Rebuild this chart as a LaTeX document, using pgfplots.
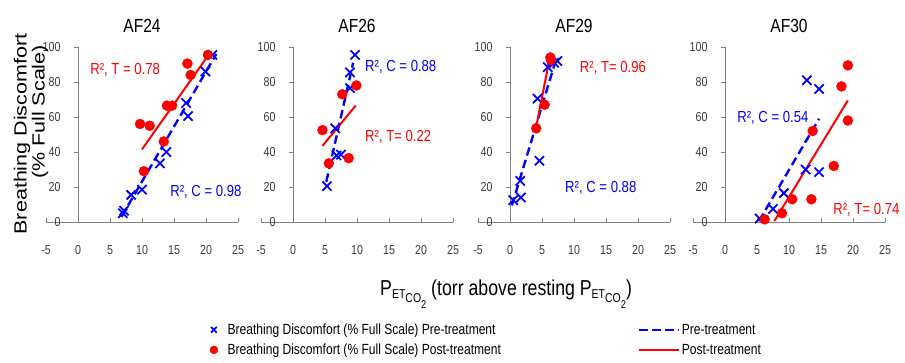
\documentclass[border=0pt]{standalone}
\usepackage{fontspec}
\setmainfont[FakeStretch=0.82]{Liberation Sans}
\newfontfamily\plainfont{Liberation Sans}
\usepackage{graphicx}
\usepackage{pgfplots}
\pgfplotsset{compat=1.18}

\definecolor{pblue}{RGB}{0,0,255}
\definecolor{pred}{RGB}{255,0,0}
\definecolor{axgray}{RGB}{128,128,128}
\definecolor{tickgray}{RGB}{60,60,60}

\newcommand\fs[1]{\fontsize{#1}{#1}\selectfont}
\newcommand\PET{P\raisebox{-3.5pt}{\fs{12.8}ET\raisebox{-4.4pt}{CO\raisebox{-5.8pt}{\fs{11.3}2}}}}

\tikzset{ann/.style={font=\fs{16}, anchor=west, inner sep=0pt}}

\pgfplotsset{
 panel/.style={
  x=6.4pt, y=1.75pt,
  xmin=-5, xmax=25, ymin=0, ymax=100,
  axis lines=middle,
  axis line style={-, draw=axgray, line width=0.9pt},
  hide obscured x ticks=false, hide obscured y ticks=false,
  xtick={-5,0,5,10,15,20,25},
  xticklabels={-5,0,5,10,15,20,25},
  ytick={0,20,40,60,80,100},
  yticklabels={0,20,40,60,80,100},
  major tick length=4pt,
  tick style={draw=axgray, line width=0.9pt},
  xtick align=inside, ytick align=outside,
  tick label style={font=\fs{13}, text=tickgray},
  xticklabel style={yshift=-20pt},
  yticklabel style={xshift=-10pt},
  title style={font=\fs{19}, at={(0.5,1)}, anchor=base, yshift=8pt},
  clip=false,
  anchor=south west,
 },
 pre/.style={only marks, mark=x, mark size=6.5pt, pblue, mark options={line width=1.8pt}},
 post/.style={only marks, mark=*, mark size=5pt, pred},
 preline/.style={pblue, line width=2.4pt, dash pattern=on 8.5pt off 4.5pt, no marks},
 postline/.style={pred, line width=2pt, no marks},
 markleg/.style={legend image code/.code={\path (-5pt,0pt) (12pt,0pt); \draw[##1, mark size=4pt] plot coordinates {(0pt,0pt)};}},
 lineleg/.style={legend image code/.code={\draw[##1] (0pt,0pt) -- (40pt,0pt);}},
}

\begin{document}
\begin{tikzpicture}
\path[use as bounding box] (0pt,0pt) rectangle (905pt,362pt);

% ---------------- AF24
\begin{axis}[panel, at={(46pt,140pt)}, title={AF24}]
\addplot[pre] coordinates {(7.0,5) (7.2,6.5) (8.3,15.5) (10.0,18.5) (12.8,33.5) (13.8,40) (16.9,68) (17.2,60.5) (19.9,86) (21.0,95.5)};
\addplot[preline] coordinates {(6.8,3) (21.6,96)};
\addplot[post] coordinates {(10.3,29) (9.7,56) (11.2,55) (13.4,46) (13.9,66.5) (14.7,66.5) (17.1,90.5) (17.6,84) (20.3,95.5)};
\addplot[postline] coordinates {(10,41.5) (20.5,96)};
\node[ann, text=pred] at (axis cs:1.9,86.9) {R², T = 0.78};
\node[ann, text=pblue] at (axis cs:14.4,17.1) {R², C = 0.98};
\end{axis}

% ---------------- AF26
\begin{axis}[panel, at={(261pt,140pt)}, title={AF26}]
\addplot[pre] coordinates {(5.3,20.5) (6.6,53.5) (6.8,38) (7.5,38.5) (8.9,76.5) (8.9,85.5) (9.7,95.5)};
\addplot[preline] coordinates {(5.2,23) (9.4,91)};
\addplot[post] coordinates {(4.6,52.5) (5.6,33.5) (7.7,73) (8.7,36.5) (9.9,78)};
\addplot[postline] coordinates {(4.6,43.5) (9.8,66.5)};
\node[ann, text=pblue] at (axis cs:11.25,88.6) {R², C = 0.88};
\node[ann, text=pred] at (axis cs:11.25,48.6) {R², T= 0.22};
\end{axis}

% ---------------- AF29
\begin{axis}[panel, at={(478pt,140pt)}, title={AF29}]
\addplot[pre] coordinates {(0.5,12.5) (1.7,14) (1.6,23.5) (4.3,70.5) (4.6,35) (5.9,88.5) (6.9,91) (7.4,92)};
\addplot[preline] coordinates {(0.3,9.5) (7.2,93)};
\addplot[post] coordinates {(4.1,53.5) (5.4,67) (6.3,94) (6.4,92.5)};
\addplot[postline] coordinates {(4.1,54.5) (6.3,95.5)};
\node[ann, text=pred] at (axis cs:10.9,88) {R², T= 0.96};
\node[ann, text=pblue] at (axis cs:8.6,19.4) {R², C = 0.88};
\end{axis}

% ---------------- AF30
\begin{axis}[panel, at={(693pt,140pt)}, title={AF30}]
\addplot[pre] coordinates {(5.4,2) (7.5,7.5) (9.2,16.5) (12.6,30) (14.7,28.5) (12.8,81) (14.7,76)};
\addplot[preline] coordinates {(5.3,0.5) (14.7,59)};
\addplot[post] coordinates {(6.2,1.5) (8.9,5) (10.5,13) (13.5,13) (13.7,52) (17.0,32) (18.2,77.5) (19.2,58) (19.2,89.5)};
\addplot[postline] coordinates {(7.7,0.5) (19.2,69.5)};
\node[ann, text=pblue] at (axis cs:1.9,59.4) {R², C = 0.54};
\node[ann, text=pred] at (axis cs:16.9,6.9) {R², T= 0.74};
\end{axis}

% ---------------- legend (hidden axis)
\begin{axis}[hide axis, x=1pt, y=1pt, xmin=0, xmax=10, ymin=0, ymax=10,
  at={(0pt,0pt)}, anchor=south west,
  legend columns=2,
  legend style={at={(20.85,4.0)}, anchor=north west, draw=none, fill=none,
    font=\fs{14.7}, inner sep=0pt, row sep=5pt,
    nodes={inner sep=1.5pt},
    /tikz/every even column/.append style={column sep=135.5pt}},
  legend cell align=left]
\addlegendimage{pre, markleg}
\addlegendentry{Breathing Discomfort (\% Full Scale) Pre-treatment}
\addlegendimage{preline, lineleg}
\addlegendentry{Pre-treatment}
\addlegendimage{post, markleg}
\addlegendentry{Breathing Discomfort (\% Full Scale) Post-treatment}
\addlegendimage{postline, lineleg}
\addlegendentry{Post-treatment}
\end{axis}

% ---------------- shared labels
\node[rotate=90, font=\plainfont\fs{21.5}, inner sep=0pt] at (22pt,228pt) {\scalebox{1}[0.82]{Breathing Discomfort}};
\node[rotate=90, font=\plainfont\fs{21.5}, inner sep=0pt] at (40pt,250pt) {\scalebox{1}[0.82]{(\% Full Scale)}};
\node[anchor=base west, font=\fs{21.6}, inner sep=0pt] at (380pt,67pt) {\PET{} (torr above resting \PET)};
\end{tikzpicture}
\end{document}
